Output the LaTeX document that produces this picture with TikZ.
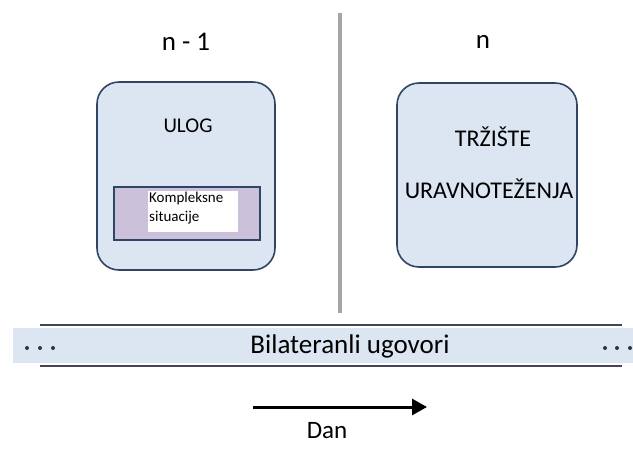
\documentclass[tikz,border=0pt]{standalone}
\usepackage{fontspec}
\setmainfont{Carlito}
\usetikzlibrary{arrows.meta}
\definecolor{boxfill}{HTML}{DCE6F2}
\definecolor{boxline}{HTML}{2F4563}
\definecolor{lav}{HTML}{CCC1DA}
\definecolor{sepgray}{HTML}{A6A6A6}
\definecolor{bandline}{HTML}{45455A}
\tikzset{
  bigbox/.style={draw=boxline, line width=1.6pt, fill=boxfill, rounded corners=22pt},
  lbl/.style={inner sep=0pt, font=\fontsize{#1}{#1}\selectfont},
  lbl/.default=24pt,
  bandln/.style={draw=bandline, line width=2.6pt},
  dotc/.style={circle, fill=black!80, inner sep=0pt, minimum size=4pt},
}
\begin{document}
\begin{tikzpicture}[x=1pt,y=-1pt]
\useasboundingbox (0,0) rectangle (633,448);
% separator
\coordinate (st) at (340,13);
\coordinate (sb) at (340,313);
\draw[sepgray, line width=4pt] (st) -- (sb);
% headings
\node[lbl=27pt] (h1) at (186,42) {n - 1};
\node[lbl=27pt] (h2) at (483,42) {n};
% left box
\path[bigbox] (97,82) rectangle (275,270);
\node[lbl=21pt] (ulog) at (188,126) {ULOG};
\node[draw=boxline, line width=1.6pt, fill=lav, minimum width=146pt, minimum height=53pt, inner sep=0pt] (inner) at (187,213.5) {};
\node[fill=white, minimum width=90pt, minimum height=41pt, inner sep=0pt] (white) at (193,211.5) {};
\node[font=\fontsize{15pt}{19pt}\selectfont, align=left, inner sep=0pt, anchor=west] (ks) at (149,208) {Kompleksne\\situacije};
% right box
\path[bigbox] (397,83) rectangle (577,267);
\node[lbl=24pt] (t1) at (493,137) {TRŽIŠTE};
\node[lbl=24pt] (t2) at (489,189) {URAVNOTEŽENJA};
% band
\fill[boxfill] (13,328) rectangle (633,363);
\coordinate (tl) at (40,325);
\coordinate (tr) at (622,325);
\coordinate (bl) at (40,366);
\coordinate (br) at (622,366);
\draw[bandln] (tl) -- (tr);
\draw[bandln] (bl) -- (br);
\node[lbl=27pt] (band) at (350,346) {Bilateranli ugovori};
\foreach \x/\n in {27/a,40/b,53/c,605/d,617/e,630/f}
  \node[dotc] (d\n) at (\x,348) {};
% arrow
\coordinate (as) at (253,407);
\coordinate (ae) at (427,407);
\draw[line width=3pt, -{Triangle[length=15pt,width=16pt]}] (as) -- (ae);
\node[lbl=25pt] (dan) at (327,431) {Dan};
\end{tikzpicture}
\end{document}
